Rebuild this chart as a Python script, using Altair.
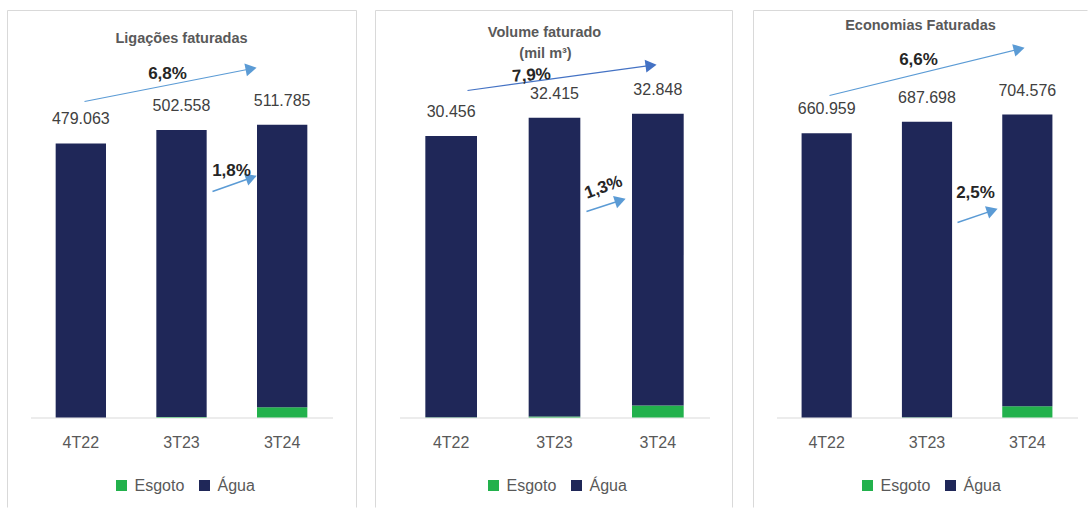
import math
import altair as alt
import pandas as pd

# ---------------- data ----------------
periods = ["4T22", "3T23", "3T24"]
series = ["Esgoto", "Água"]

lig_total = [479063, 502558, 511785]
lig_esgoto = [0, 700, 18000]

vol_total = [30456, 32415, 32848]
vol_esgoto = [40, 110, 1300]

eco_total = [660959, 687698, 704576]
eco_esgoto = [0, 600, 26300]

FONT = "Liberation Sans"
NAVY = "#1F2758"
GREEN = "#22B14C"
GREY_TXT = "#595959"
BORDER = "#D9D9D9"
H = 330


def fmt(v):
    return f"{v:,}".replace(",", ".")


def stack_df(total, esg):
    rows = []
    for p, t, e in zip(periods, total, esg):
        rows.append({"period": p, "serie": "Esgoto", "value": e, "ord": 0})
        rows.append({"period": p, "serie": "Água", "value": t - e, "ord": 1})
    return pd.DataFrame(rows)


one = pd.DataFrame({"k": [0]})


def text_mark(txt, x, y, size=17, bold=True, color="#262626", angle=0):
    kw = dict(text=txt, fontSize=size, font=FONT, color=color,
              align="center", baseline="middle")
    if bold:
        kw["fontWeight"] = "bold"
    if angle:
        kw["angle"] = angle
    return alt.Chart(one).mark_text(**kw).encode(x=alt.value(x), y=alt.value(y))


def arrow(x1, y1, x2, y2, color, sw):
    ang = math.degrees(math.atan2(y2 - y1, x2 - x1))
    L = math.hypot(x2 - x1, y2 - y1)
    ux, uy = (x2 - x1) / L, (y2 - y1) / L
    cx, cy = x2 - 6.5 * ux, y2 - 6.5 * uy
    line = alt.Chart(one).mark_rule(color=color, strokeWidth=sw).encode(
        x=alt.value(x1), y=alt.value(y1), x2=alt.value(cx), y2=alt.value(cy))
    head = alt.Chart(one).mark_point(
        shape="triangle-right", filled=True, color=color, size=165,
        angle=(ang + 360) % 360, opacity=1, strokeWidth=0
    ).encode(x=alt.value(cx), y=alt.value(cy))
    return [line, head]


def frame(left, right, top, bottom, right_side=True):
    layers = [
        alt.Chart(one).mark_rule(color=BORDER, strokeWidth=1).encode(
            x=alt.value(left), x2=alt.value(right), y=alt.value(top)),
        alt.Chart(one).mark_rule(color=BORDER, strokeWidth=1).encode(
            x=alt.value(left), y=alt.value(top), y2=alt.value(bottom)),
    ]
    if right_side:
        layers.append(alt.Chart(one).mark_rule(color=BORDER, strokeWidth=1).encode(
            x=alt.value(right), y=alt.value(top), y2=alt.value(bottom)))
    return layers


def panel(total, esg, dmax, width, legend_x, annots):
    df = stack_df(total, esg)
    tdf = pd.DataFrame({"period": periods, "total": total,
                        "label": [fmt(v) for v in total]})
    yscale = alt.Scale(domain=[0, dmax], nice=False, zero=True)
    xenc = alt.X("period:N", sort=periods,
                 scale=alt.Scale(paddingInner=0.5, paddingOuter=0.25),
                 axis=alt.Axis(labelAngle=0, ticks=False, domainColor=BORDER,
                               domainWidth=1, labelFontSize=16, labelFont=FONT,
                               labelColor=GREY_TXT, labelPadding=17, grid=False),
                 title=None)
    bars = alt.Chart(df).mark_bar().encode(
        x=xenc,
        y=alt.Y("value:Q", stack="zero", scale=yscale, axis=None),
        color=alt.Color("serie:N", scale=alt.Scale(domain=series, range=[GREEN, NAVY]),
                        title=None,
                        legend=alt.Legend(orient="none", legendX=legend_x, legendY=390,
                                          direction="horizontal", symbolType="square",
                                          symbolSize=121, symbolStrokeWidth=0,
                                          labelFontSize=16, labelFont=FONT,
                                          labelColor=GREY_TXT, columnPadding=12,
                                          labelOffset=5, padding=0)),
        order=alt.Order("ord:Q", sort="ascending"),
    )
    labels = alt.Chart(tdf).mark_text(dy=-24, fontSize=16, font=FONT,
                                      color="#404040", baseline="middle").encode(
        x=alt.X("period:N", sort=periods),
        y=alt.Y("total:Q", scale=yscale, axis=None),
        text="label:N",
    )
    return alt.layer(bars, labels, *annots).properties(width=width, height=H)


# panel 1 (plot origin at abs 30, 87)
a1 = frame(-23, 326, -77, 420)
a1.append(text_mark("Ligações faturadas", 151, -49, size=14.5, color=GREY_TXT))
a1 += arrow(54, 14, 227, -20, "#5B9BD5", 1.2)
a1 += arrow(182, 104, 227, 88, "#5B9BD5", 1.5)
a1.append(text_mark("6,8%", 137, -14))
a1.append(text_mark("1,8%", 201, 83))

# panel 2 (plot origin at abs 399, 87)
a2 = frame(-24, 333, -77, 420)
a2.append(text_mark("Volume faturado", 145, -55, size=14.5, color=GREY_TXT))
a2.append(text_mark("(mil m³)", 146, -34, size=14.5, color=GREY_TXT))
a2 += arrow(68, 3, 258, -23, "#4472C4", 1.2)
a2 += arrow(187, 124, 227, 111, "#5B9BD5", 1.5)
a2.append(text_mark("7,9%", 132, -12, angle=356))
a2.append(text_mark("1,3%", 204, 100, angle=340))

# panel 3 (plot origin at abs 776, 87)
a3 = frame(-23, 311, -77, 420, right_side=False)
a3.append(text_mark("Economias Faturadas", 144, -62, size=14.5, color=GREY_TXT))
a3 += arrow(53, 8, 249, -40, "#5B9BD5", 1.2)
a3 += arrow(181, 135, 222, 121, "#5B9BD5", 1.5)
a3.append(text_mark("6,6%", 142, -28))
a3.append(text_mark("2,5%", 199, 105))

p1 = panel(lig_total, lig_esgoto, H / 5.72e-4, 302, 83, a1)
p2 = panel(vol_total, vol_esgoto, H / 9.245e-3, 310, 86, a2)
p3 = panel(eco_total, eco_esgoto, H / 4.30e-4, 301, 83, a3)

chart = alt.hconcat(p1, p2, p3, spacing=67, bounds="flush").resolve_scale(
    x="independent", y="independent", color="independent"
).resolve_legend(color="independent").properties(
    padding={"left": 6.5, "top": 9.5, "right": 0, "bottom": 0},
    autosize=alt.AutoSizeParams(type="pad"),
    background="white",
).configure(font=FONT).configure_view(stroke="transparent", strokeWidth=0)

chart.save("out.html", embed_options={"renderer": "svg", "actions": False})
